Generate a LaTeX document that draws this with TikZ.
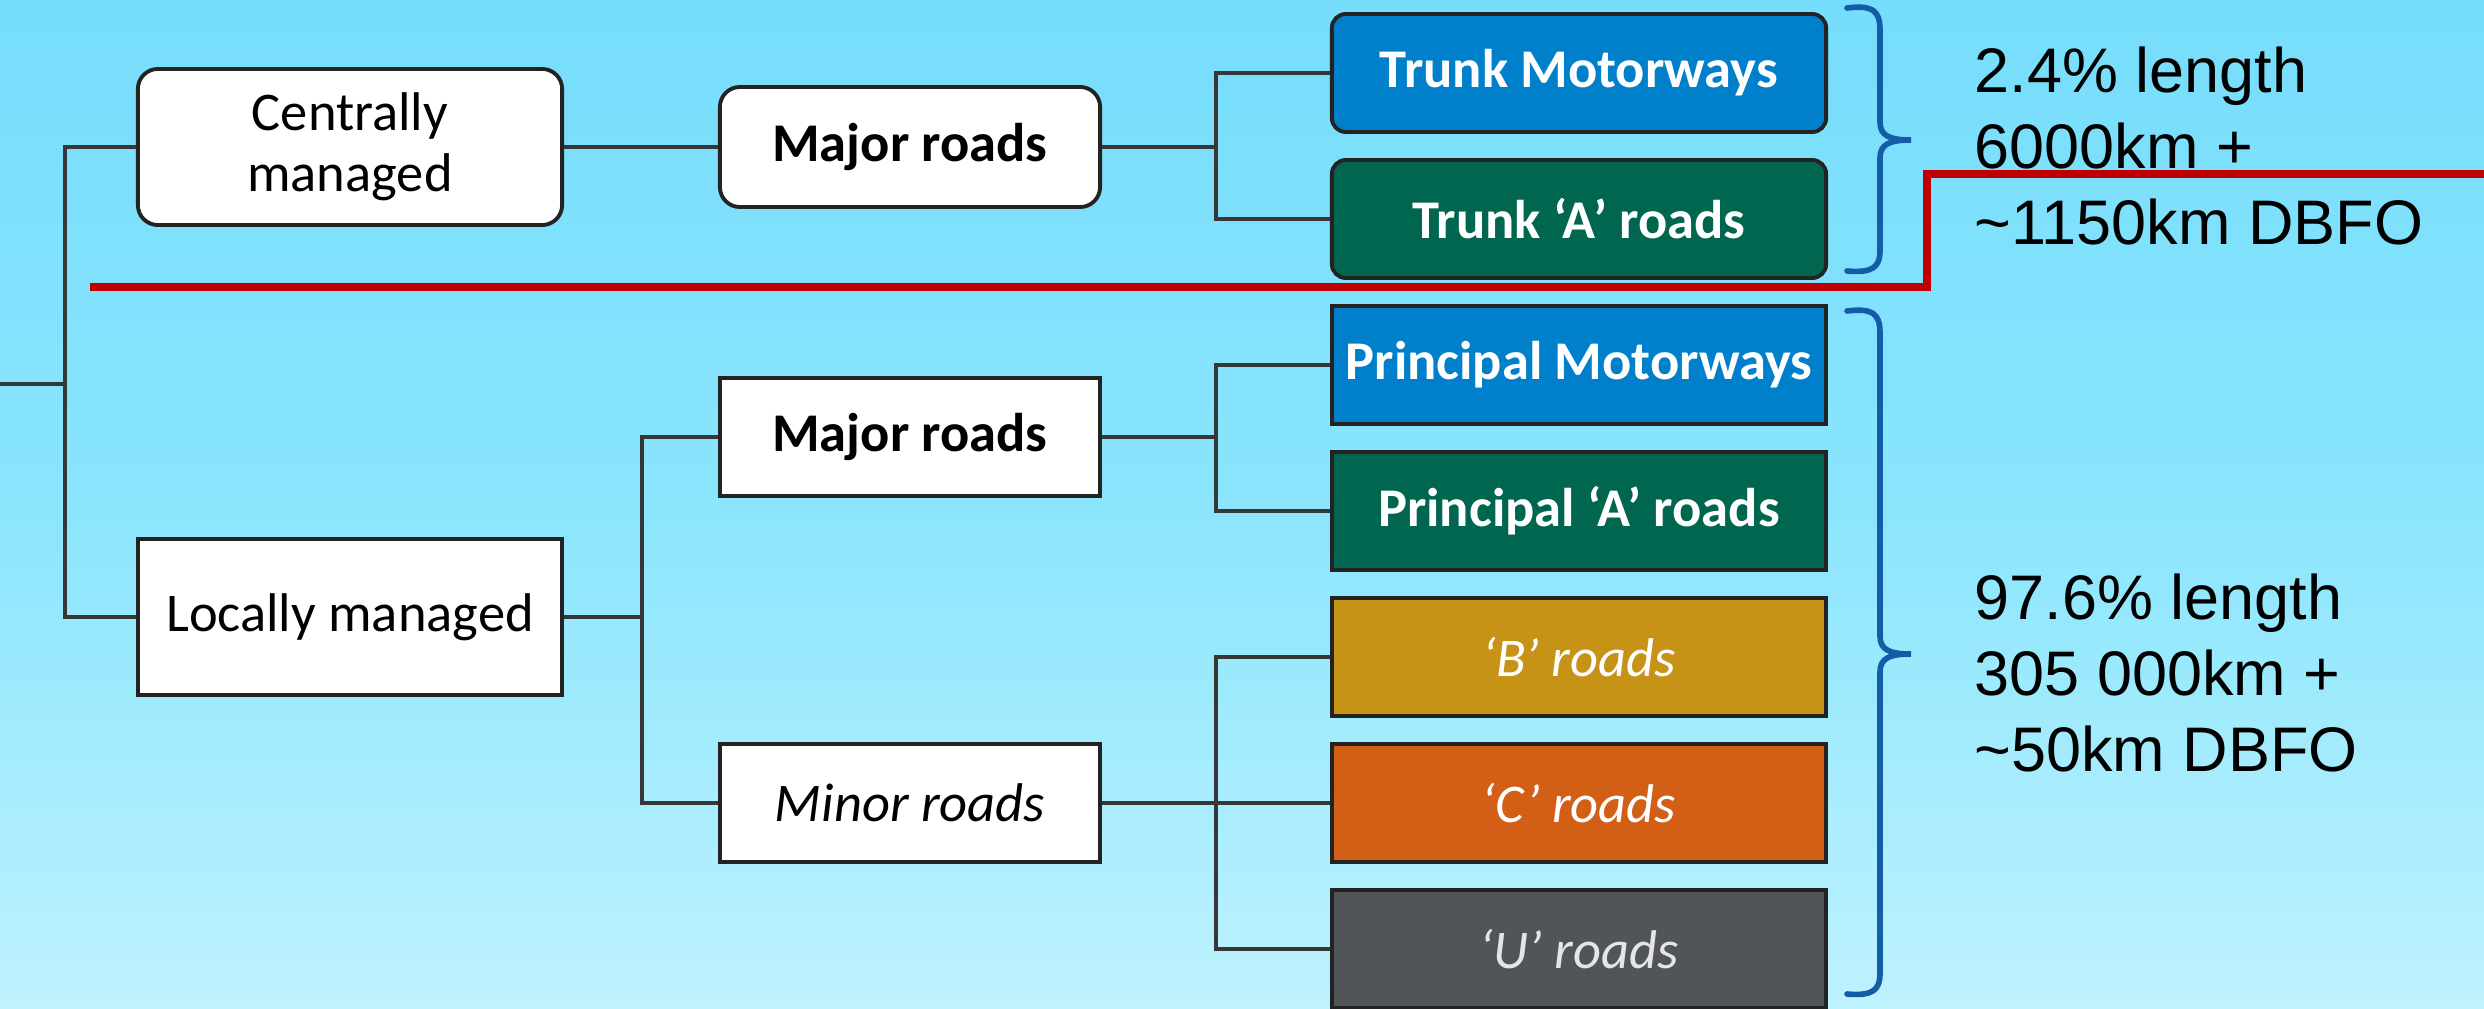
\documentclass[tikz,border=0pt]{standalone}
\usepackage{fontspec}
\setmainfont{Carlito}
\newfontfamily\arialf{Liberation Sans}
\definecolor{bgtop}{RGB}{118,221,252}
\definecolor{bgmid}{RGB}{138,229,253}
\definecolor{bgbot}{RGB}{190,242,254}
\definecolor{boxline}{RGB}{35,35,35}
\definecolor{connline}{RGB}{55,55,55}
\definecolor{cblue}{RGB}{0,128,202}
\definecolor{cgreen}{RGB}{0,102,80}
\definecolor{cyellow}{RGB}{199,147,22}
\definecolor{corange}{RGB}{211,94,22}
\definecolor{cgrey}{RGB}{81,84,89}
\definecolor{redl}{RGB}{192,0,0}
\definecolor{braceblue}{RGB}{18,92,168}
\begin{document}
\begin{tikzpicture}[x=0.01cm,y=-0.01cm,
  boxbase/.style={draw=boxline, line width=1.1pt, inner sep=0pt, align=center,
    font=\fontsize{15.5}{17.4}\selectfont},
  lvlone/.style={boxbase, fill=white, text=black, minimum width=4.24cm, minimum height=1.56cm},
  lvltwo/.style={boxbase, fill=white, text=black, minimum width=3.8cm, minimum height=1.18cm},
  leaf/.style={boxbase, text=white, minimum width=4.94cm, minimum height=1.18cm},
  rnd/.style={rounded corners=0.2cm},
  rnds/.style={rounded corners=0.14cm},
  conn/.style={draw=connline, line width=1.2pt},
  redline/.style={draw=redl, line width=2.2pt},
  bracel/.style={draw=braceblue, line width=1.6pt, line cap=round},
  rtext/.style={font=\arialf\fontsize{17.9}{21.6}\selectfont, align=left, anchor=base west, inner sep=0pt, text=black}
]
\useasboundingbox (0,0) rectangle (2484,1009);
\shade[top color=bgtop, bottom color=bgbot, middle color=bgmid] (0,0) rectangle (2484,1009);

% junctions
\coordinate (root) at (0,384);
\coordinate (jzero) at (65,384);
\coordinate (jone) at (1216,147);
\coordinate (jtwo) at (642,617);
\coordinate (jthree) at (1216,437);
\coordinate (jfour) at (1216,803);

% first level
\node[lvlone,rnd] (cent) at (350,147) {Centrally\\managed};
\node[lvlone] (loc) at (350,617) {Locally managed};
% second level
\node[lvltwo,rnd,minimum height=1.2cm] (majone) at (910,147) {\bfseries Major roads};
\node[lvltwo] (majtwo) at (910,437) {\bfseries Major roads};
\node[lvltwo] (minr) at (910,803) {\itshape Minor roads};
% leaves
\node[leaf,rnds,fill=cblue,font=\fontsize{15.5}{17.4}\selectfont\bfseries] (tm) at (1579,73) {Trunk Motorways};
\node[leaf,rnds,fill=cgreen,font=\fontsize{15.5}{17.4}\selectfont\bfseries] (ta) at (1579,219) {Trunk ‘A’ roads};
\node[leaf,fill=cblue,font=\fontsize{15.5}{17.4}\selectfont\bfseries] (pm) at (1579,365) {Principal Motorways};
\node[leaf,fill=cgreen,font=\fontsize{15.5}{17.4}\selectfont\bfseries] (pa) at (1579,511) {Principal ‘A’ roads};
\node[leaf,fill=cyellow,font=\fontsize{15.5}{17.4}\selectfont\itshape] (br) at (1579,657) {‘B’ roads};
\node[leaf,fill=corange,font=\fontsize{15.5}{17.4}\selectfont\itshape] (cr) at (1579,803) {‘C’ roads};
\node[leaf,fill=cgrey,text={black!10},font=\fontsize{15.5}{17.4}\selectfont\itshape] (ur) at (1579,949) {‘U’ roads};

% connectors
\begin{scope}[on background layer/.style={}]
\draw[conn] (root) -- (jzero);
\draw[conn] (cent.west) -| (jzero) |- (loc.west);
\draw[conn] (cent.east) -- (majone.west);
\draw[conn] (majone.east) -- (jone);
\draw[conn] (tm.west) -| (jone) |- (ta.west);
\draw[conn] (loc.east) -- (jtwo);
\draw[conn] (majtwo.west) -| (jtwo) |- (minr.west);
\draw[conn] (majtwo.east) -- (jthree);
\draw[conn] (pm.west) -| (jthree) |- (pa.west);
\draw[conn] (minr.east) -- (cr.west);
\draw[conn] (br.west) -| (jfour) |- (ur.west);
\end{scope}

% red divider
\draw[redline] (90,287) -- (1927,287) -- (1927,174) -- (2500,174);

% braces
\draw[bracel] (1847,8) .. controls (1872,5) and (1880,10) .. (1880,30) -- (1880,122)
  .. controls (1880,136) and (1890,140) .. (1911,140)
  .. controls (1890,140) and (1880,144) .. (1880,158) -- (1880,250)
  .. controls (1880,268) and (1872,273) .. (1847,271);
\draw[bracel] (1847,311) .. controls (1872,308) and (1880,313) .. (1880,333) -- (1880,636)
  .. controls (1880,650) and (1890,654) .. (1911,654)
  .. controls (1890,654) and (1880,658) .. (1880,672) -- (1880,973)
  .. controls (1880,991) and (1872,996) .. (1847,994);

% texts (anchor = baseline of last line)
\node[rtext] (tup) at (1974,244) {2.4\% length\\6000km +\\\textasciitilde1150km DBFO};
\node[rtext] (tlow) at (1974,771) {97.6\% length\\305 000km +\\\textasciitilde50km DBFO};
\end{tikzpicture}
\end{document}
